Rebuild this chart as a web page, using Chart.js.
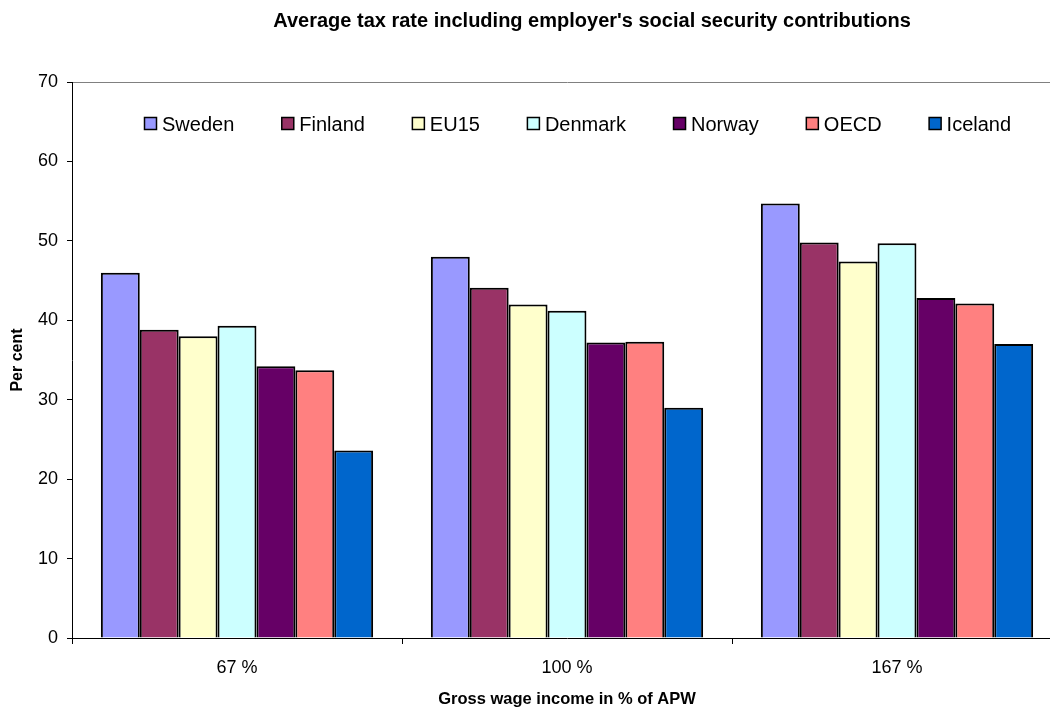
<!DOCTYPE html>
<html>
<head>
<meta charset="utf-8">
<script src="https://cdn.jsdelivr.net/npm/chart.js@4.4.0/dist/chart.umd.min.js"></script>
<style>
  html, body { margin: 0; padding: 0; background: #fff; overflow: hidden; }
  #chart { display: block; }
</style>
</head>
<body>
<canvas id="chart" width="1190" height="709"></canvas>
<script>
const categories = ['67 %', '100 %', '167 %'];
const countries = ['Sweden', 'Finland', 'EU15', 'Denmark', 'Norway', 'OECD', 'Iceland'];
const sweden = [46.0, 48.0, 54.7];
const finland = [38.8, 44.1, 49.8];
const eu15 = [38.0, 42.0, 47.4];
const denmark = [39.3, 41.2, 49.7];
const norway = [34.2, 37.2, 42.8];
const oecd = [33.7, 37.3, 42.1];
const iceland = [23.6, 29.0, 37.0];
const yTicks = [0, 10, 20, 30, 40, 50, 60, 70];
const chartTitle = "Average tax rate including employer's social security contributions";

const seriesValues = [sweden, finland, eu15, denmark, norway, oecd, iceland];
const colours = ['#9999FF', '#993366', '#FFFFCC', '#CCFFFF', '#660066', '#FF8080', '#0066CC'];
const FONT = "'Liberation Sans', Arial, sans-serif";

// title is centred on the whole chart, not only on the plot, so draw it here
const wideTitle = {
  id: 'wideTitle',
  afterDraw(chart) {
    const ctx = chart.ctx;
    ctx.save();
    ctx.font = 'bold 20px ' + FONT;
    ctx.fillStyle = '#000';
    ctx.textAlign = 'center';
    ctx.textBaseline = 'middle';
    ctx.fillText(chartTitle, 592, 21);
    ctx.restore();
  }
};

// legend is drawn inside the plot, in one row, like the original
const insideLegend = {
  id: 'insideLegend',
  afterDraw(chart) {
    const ctx = chart.ctx;
    const area = chart.chartArea;
    const y = area.top + 42;
    let x = area.left + 72;
    ctx.save();
    ctx.font = '20px ' + FONT;
    ctx.textBaseline = 'middle';
    ctx.textAlign = 'left';
    chart.data.datasets.forEach(ds => {
      ctx.fillStyle = ds.backgroundColor;
      ctx.fillRect(x + 0.5, y - 6.5, 12, 12);
      ctx.strokeStyle = '#000';
      ctx.lineWidth = 1.5;
      ctx.strokeRect(x + 0.5, y - 6.5, 12, 12);
      ctx.fillStyle = '#000';
      ctx.fillText(ds.label, x + 18, y + 1);
      x += 18 + ctx.measureText(ds.label).width + 47;
    });
    ctx.restore();
  }
};

const ctx = document.getElementById('chart').getContext('2d');

const chart = new Chart(ctx, {
  type: 'bar',
  data: {
    labels: categories,
    datasets: countries.map((name, i) => ({
      label: name,
      data: seriesValues[i],
      backgroundColor: colours[i],
      borderColor: '#000',
      borderWidth: 2,
      categoryPercentage: 0.825,
      barPercentage: 1
    }))
  },
  options: {
    responsive: false,
    animation: false,
    events: [],
    layout: { padding: { left: 0, right: 128, top: 82, bottom: 0 } },
    plugins: {
      legend: { display: false },
      tooltip: { enabled: false },
      title: { display: false }
    },
    scales: {
      x: {
        offset: true,
        grid: {
          offset: true,
          drawOnChartArea: false,
          tickLength: 6,
          tickColor: '#000'
        },
        border: { color: '#000', width: 1 },
        ticks: {
          color: '#000',
          padding: 13,
          font: { family: FONT, size: 18 }
        },
        title: {
          display: true,
          text: 'Gross wage income in % of APW',
          color: '#000',
          font: { family: FONT, size: 16.5, weight: 'bold' },
          padding: 0
        },
        afterFit(scale) { scale.height = 71; }
      },
      y: {
        min: 0,
        max: 70,
        afterBuildTicks(scale) { scale.ticks = yTicks.map(v => ({ value: v })); },
        grid: {
          color: c => (c.tick && c.tick.value === 70 ? '#808080' : 'rgba(0,0,0,0)'),
          tickColor: '#000',
          tickLength: 5
        },
        border: { color: '#000', width: 1 },
        ticks: {
          color: '#000',
          padding: 9,
          font: { family: FONT, size: 18 }
        },
        title: {
          display: true,
          text: 'Per cent',
          color: '#000',
          font: { family: FONT, size: 16, weight: 'bold' },
          padding: 8
        },
        afterFit(scale) { scale.width = 72; }
      }
    }
  },
  plugins: [wideTitle, insideLegend]
});
</script>
</body>
</html>
